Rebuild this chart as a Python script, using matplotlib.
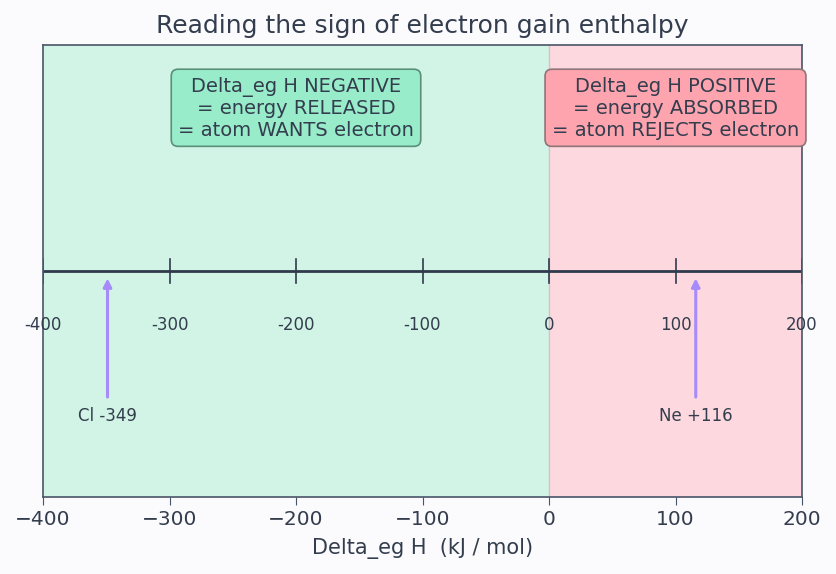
import matplotlib
matplotlib.use("Agg")
import matplotlib.pyplot as plt

ticks = [-400, -300, -200, -100, 0, 100, 200]
tick_labels = ["-400", "-300", "-200", "-100", "0", "100", "200"]
elements = ["Cl", "Ne"]
values = [-349, 116]
value_labels = ["Cl -349", "Ne +116"]

txt = "#333d4d"
edge = "#4a5468"

fig = plt.figure(figsize=(8.37, 5.74), dpi=100, facecolor="#fbfbfe")
ax = fig.add_axes([43/837, 1-497/574, (802-43)/837, (497-45)/574])
ax.set_xlim(-400, 200)
ax.set_ylim(-1, 1)

ax.axvspan(-400, 0, color="#d1f4e6", zorder=0)
ax.axvspan(0, 200, color="#fdd8de", zorder=0)
ax.axvline(0, color="#c8c8c8", lw=1, zorder=1)

# number line
ax.axhline(0, color="#2f3a4c", lw=2, zorder=2)
for t, lab in zip(ticks, tick_labels):
    ax.plot([t, t], [-0.055, 0.055], color="#2f3a4c", lw=1.2, zorder=2)
    ax.text(t, -0.24, lab, ha="center", va="center", fontsize=12, color=txt)

for v, lab in zip(values, value_labels):
    ax.annotate("", xy=(v, -0.02), xytext=(v, -0.57),
                arrowprops=dict(arrowstyle="-|>", color="#a78bfa", lw=2.2, mutation_scale=12))
    ax.text(v, -0.64, lab, ha="center", va="center", fontsize=12, color=txt)

ax.text(-200, 0.72, "Delta_eg H NEGATIVE\n= energy RELEASED\n= atom WANTS electron",
        ha="center", va="center", fontsize=14, color=txt, linespacing=1.15,
        bbox=dict(boxstyle="round,pad=0.35", facecolor="#98ecca", edgecolor="#5a8f7a", lw=1.2))
ax.text(100, 0.72, "Delta_eg H POSITIVE\n= energy ABSORBED\n= atom REJECTS electron",
        ha="center", va="center", fontsize=14, color=txt, linespacing=1.15,
        bbox=dict(boxstyle="round,pad=0.35", facecolor="#fda4af", edgecolor="#8f7479", lw=1.2))

ax.set_yticks([])
ax.set_xticks(ticks)
ax.tick_params(axis="x", colors=edge, labelcolor=txt, labelsize=14.5, length=6)
for s in ax.spines.values():
    s.set_color(edge)
    s.set_linewidth(1.2)
ax.set_xlabel("Delta_eg H  (kJ / mol)", fontsize=15, color=txt, labelpad=6)
ax.set_title("Reading the sign of electron gain enthalpy", fontsize=18, color=txt, pad=9)

fig.savefig("out.png", dpi=100, facecolor=fig.get_facecolor())
